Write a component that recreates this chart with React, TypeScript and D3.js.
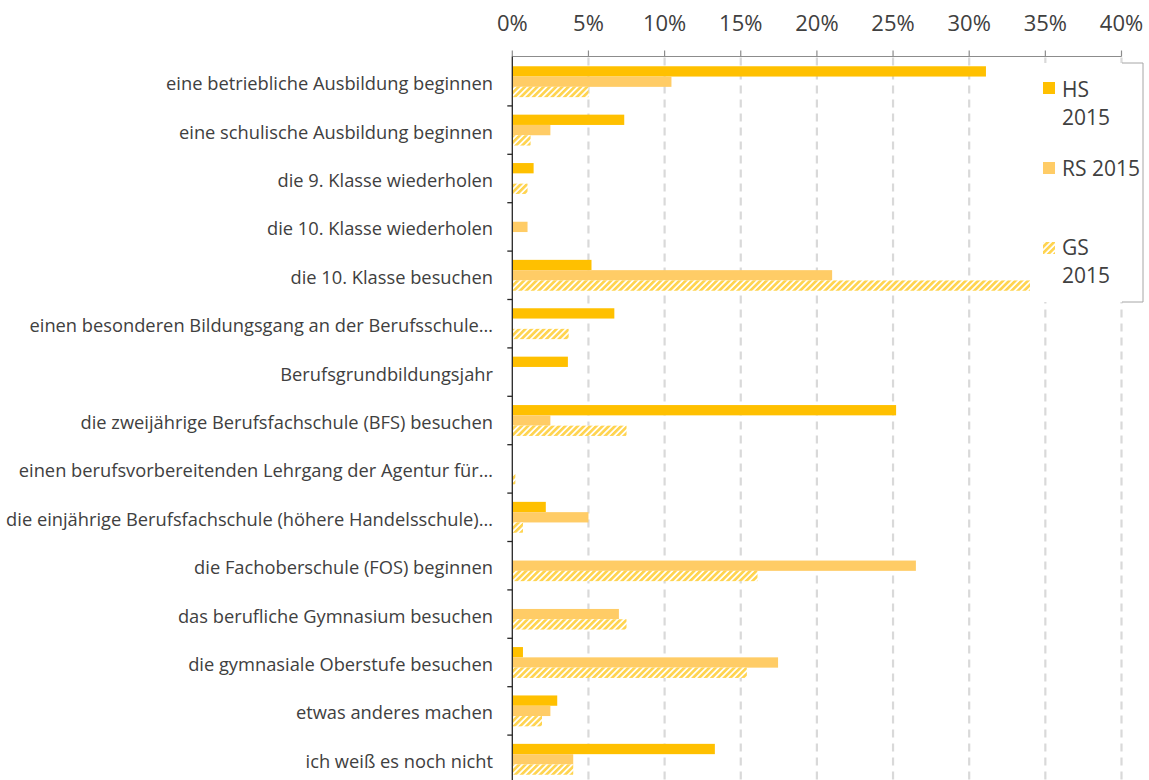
import React from "react";
import * as d3 from "d3";

const categories = [
  "eine betriebliche Ausbildung beginnen",
  "eine schulische Ausbildung beginnen",
  "die 9. Klasse wiederholen",
  "die 10. Klasse wiederholen",
  "die 10. Klasse besuchen",
  "einen besonderen Bildungsgang an der Berufsschule…",
  "Berufsgrundbildungsjahr",
  "die zweijährige Berufsfachschule (BFS) besuchen",
  "einen berufsvorbereitenden Lehrgang der Agentur für…",
  "die einjährige Berufsfachschule (höhere Handelsschule)…",
  "die Fachoberschule (FOS) beginnen",
  "das berufliche Gymnasium besuchen",
  "die gymnasiale Oberstufe besuchen",
  "etwas anderes machen",
  "ich weiß es noch nicht",
];

const hs2015 = [31.1, 7.35, 1.4, 0, 5.2, 6.7, 3.65, 25.2, 0, 2.2, 0, 0, 0.7, 2.95, 13.3];
const rs2015 = [10.45, 2.5, 0, 1.0, 21.0, 0, 0, 2.5, 0, 5.0, 26.5, 7.0, 17.45, 2.5, 4.0];
const gs2015 = [5.0, 1.2, 1.0, 0, 34.4, 3.7, 0, 7.5, 0.2, 0.7, 16.1, 7.5, 15.4, 1.95, 4.0];

const seriesNames = ["HS 2015", "RS 2015", "GS 2015"];
const tickValues = [0, 5, 10, 15, 20, 25, 30, 35, 40];

const FONT = "'Open Sans', sans-serif";
const TXT = "#404040";

export default function App() {
  const x = d3.scaleLinear().domain([0, 40]).range([512.3, 1121.5]);
  const y = d3.scaleBand<string>().domain(categories).range([57.5, 783.5]).padding(0);
  const bw = y.bandwidth();
  const inner = d3
    .scaleBand<string>()
    .domain(seriesNames)
    .range([0, bw])
    .paddingInner(0)
    .paddingOuter(0.85);

  const series = [
    { name: "HS 2015", values: hs2015, fill: "#FFC000" },
    { name: "RS 2015", values: rs2015, fill: "#FFCC66" },
    { name: "GS 2015", values: gs2015, fill: "url(#hatch)" },
  ];

  const top = 56.5;
  const bottom = 784;

  return (
    <svg
      width={1149}
      height={780}
      style={{ position: "absolute", left: 0, top: 0, background: "#fff" }}
      fontFamily={FONT}
    >
      <defs>
        <pattern
          id="hatch"
          width={4.4}
          height={4.4}
          patternUnits="userSpaceOnUse"
          patternTransform="rotate(45)"
        >
          <rect width={4.4} height={4.4} fill="#ffffff" />
          <rect width={2.7} height={4.4} fill="#FFD450" />
        </pattern>
      </defs>

      {/* gridlines */}
      {tickValues.slice(1).map((t) => (
        <line
          key={"g" + t}
          x1={x(t)}
          x2={x(t)}
          y1={top + 1}
          y2={bottom}
          stroke="#D9D9D9"
          strokeWidth={2.2}
          strokeDasharray="8 6"
        />
      ))}

      {/* bars */}
      {series.map((s) =>
        s.values.map((v, i) =>
          v > 0 ? (
            <rect
              key={s.name + i}
              x={x(0)}
              y={(y(categories[i]) as number) + (inner(s.name) as number)}
              width={x(v) - x(0)}
              height={inner.bandwidth()}
              fill={s.fill}
            />
          ) : null
        )
      )}

      {/* top axis */}
      <line x1={x(0)} x2={x(40)} y1={top} y2={top} stroke="#8C8C8C" strokeWidth={1.2} />
      {tickValues.map((t) => (
        <g key={"t" + t}>
          <line x1={x(t)} x2={x(t)} y1={top - 6} y2={top} stroke="#8C8C8C" strokeWidth={1.2} />
          <text x={x(t)} y={31} textAnchor="middle" fontSize={22} fill={TXT}>
            {t + "%"}
          </text>
        </g>
      ))}

      {/* left axis */}
      <line x1={x(0)} x2={x(0)} y1={top} y2={bottom} stroke="#262626" strokeWidth={1.3} />
      {categories.map((c, i) => (
        <g key={"c" + i}>
          <line
            x1={x(0) - 5}
            x2={x(0)}
            y1={(y(c) as number) + bw}
            y2={(y(c) as number) + bw}
            stroke="#262626"
            strokeWidth={1.3}
          />
          <text
            x={493}
            y={(y(c) as number) + bw / 2 + 1}
            textAnchor="end"
            dominantBaseline="central"
            fontSize={18.3}
            fill={TXT}
          >
            {c}
          </text>
        </g>
      ))}

      {/* legend */}
      <rect x={1030} y={63} width={113} height={239} fill="#ffffff" />
      <path d="M1122,63 H1143 V302 H1122" fill="none" stroke="#A6A6A6" strokeWidth={1} />
      <rect x={1043} y={82} width={12} height={12} fill="#FFC000" />
      <text x={1062} y={97} fontSize={21} fill={TXT}>HS</text>
      <text x={1062} y={125} fontSize={21} fill={TXT}>2015</text>
      <rect x={1043} y={162} width={12} height={12} fill="#FFCC66" />
      <text x={1062} y={176} fontSize={21} fill={TXT}>RS 2015</text>
      <rect x={1043} y={242} width={12} height={12} fill="url(#hatch)" />
      <text x={1062} y={255} fontSize={21} fill={TXT}>GS</text>
      <text x={1062} y={283} fontSize={21} fill={TXT}>2015</text>
    </svg>
  );
}
